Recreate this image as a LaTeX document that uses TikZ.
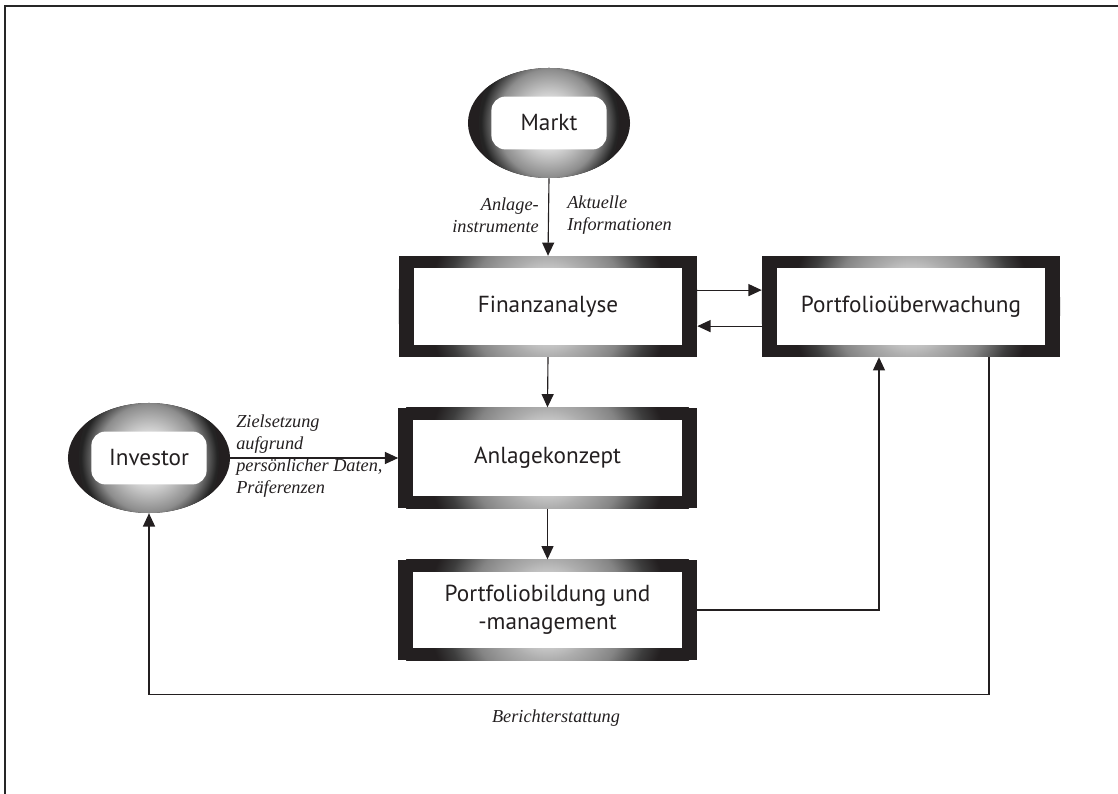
\documentclass[tikz,border=0pt]{standalone}
\usepackage{fontspec}
\setmainfont{Liberation Serif}
\setsansfont{PT Sans}
\usetikzlibrary{arrows.meta}
\usetikzlibrary{shapes.geometric}
\usetikzlibrary{calc}
\definecolor{ink}{HTML}{231F20}
\pgfdeclareradialshading{frameglow}{\pgfpointorigin}{color(0bp)=(white); color(6.2bp)=(black!22); color(8.3bp)=(black!32); color(13bp)=(black!48); color(17.2bp)=(black!76); color(20bp)=(ink); color(25bp)=(ink); color(50bp)=(ink)}
\pgfdeclareradialshading{ovalglow}{\pgfpointorigin}{color(0bp)=(white); color(8bp)=(black!16); color(16bp)=(black!45); color(21bp)=(black!86); color(25bp)=(ink); color(50bp)=(ink)}
\newcommand\boxwd{7.45cm}
\newcommand\boxht{2.52cm}
\newcommand\rimx{.37cm}
\newcommand\rimy{.31cm}
\newcommand\labelfont{\itshape\fontsize{13}{15.5}\selectfont}
\newcommand\stagefont{\sffamily\fontsize{16.5}{20}\selectfont}
\tikzset{>={Triangle[length=.33cm,width=.3cm]}}
\tikzset{
  stage/.style={rectangle, fill=ink, text=ink, minimum width=\boxwd, minimum height=\boxht,
    inner sep=0pt, align=center, font=\stagefont,
    path picture={
      \shade[shading=frameglow] (path picture bounding box.center) circle (3.75cm);
      \fill[white] ([shift={(\rimx,-\rimy)}]path picture bounding box.north west)
        rectangle ([shift={(-\rimx,\rimy)}]path picture bounding box.south east);
    }},
  party/.style={ellipse, fill=ink, text=ink, minimum width=4.05cm, minimum height=2.75cm,
    inner sep=0pt, font=\stagefont,
    path picture={
      \shade[shading=ovalglow] (path picture bounding box.center) ellipse [x radius=1.75cm, y radius=2.1cm];
      \fill[white, rounded corners=.35cm] ($(path picture bounding box.center)+(-1.44cm,-.66cm)$)
        rectangle ($(path picture bounding box.center)+(1.44cm,.66cm)$);
    }},
  flow/.style={draw=ink, line width=.8pt, ->},
  remark/.style={text=ink, font=\labelfont, inner sep=0pt}
}
\begin{document}
\begin{tikzpicture}[x=.025cm,y=-.025cm]
  \useasboundingbox (0,0) rectangle (1118,794);
  \draw[line width=1.2pt, black!85] (5,794) -- (5,6) -- (1118,6);
  % parties
  \node[party] (markt) at (549,123) {Markt};
  \node[party] (investor) at (149,458) {Investor};
  % stages
  \node[stage] (fin) at (548,306.5) {Finanzanalyse};
  \node[stage] (ueber) at (911,306.5) {Portfolioüberwachung};
  \node[stage] (anlage) at (547.5,458) {Anlagekonzept};
  \node[stage] (bildung) at (547.5,610) {Portfoliobildung und\\-management};
  % labels
  \node[remark, align=right, anchor=east] (instr) at (539,215) {Anlage-\\instrumente};
  \node[remark, align=left, anchor=west] (info) at (567,215) {Aktuelle\\Informationen};
  \node[remark, align=left, anchor=west] (ziel) at (236,456)
    {Zielsetzung\\aufgrund\\persönlicher Daten,\\Präferenzen};
  \node[remark] (bericht) at (556,718) {Berichterstattung};
  % edges
  \draw[flow] (markt.south) -- (fin.north);
  \draw[flow] ([yshift=.41cm]fin.east) -- ([yshift=.41cm]ueber.west);
  \draw[flow] ([yshift=-.49cm]ueber.west) -- ([yshift=-.49cm]fin.east);
  \draw[flow] (fin.south) -- (anlage.north);
  \draw[flow] (investor.east) -- (anlage.west);
  \draw[flow] (anlage.south) -- (bildung.north);
  \draw[flow] (bildung.east) -| ([xshift=-.8cm]ueber.south);
  \draw[flow] ([xshift=1.95cm]ueber.south) -- ++(0,337) -| (investor.south);
\end{tikzpicture}
\end{document}
